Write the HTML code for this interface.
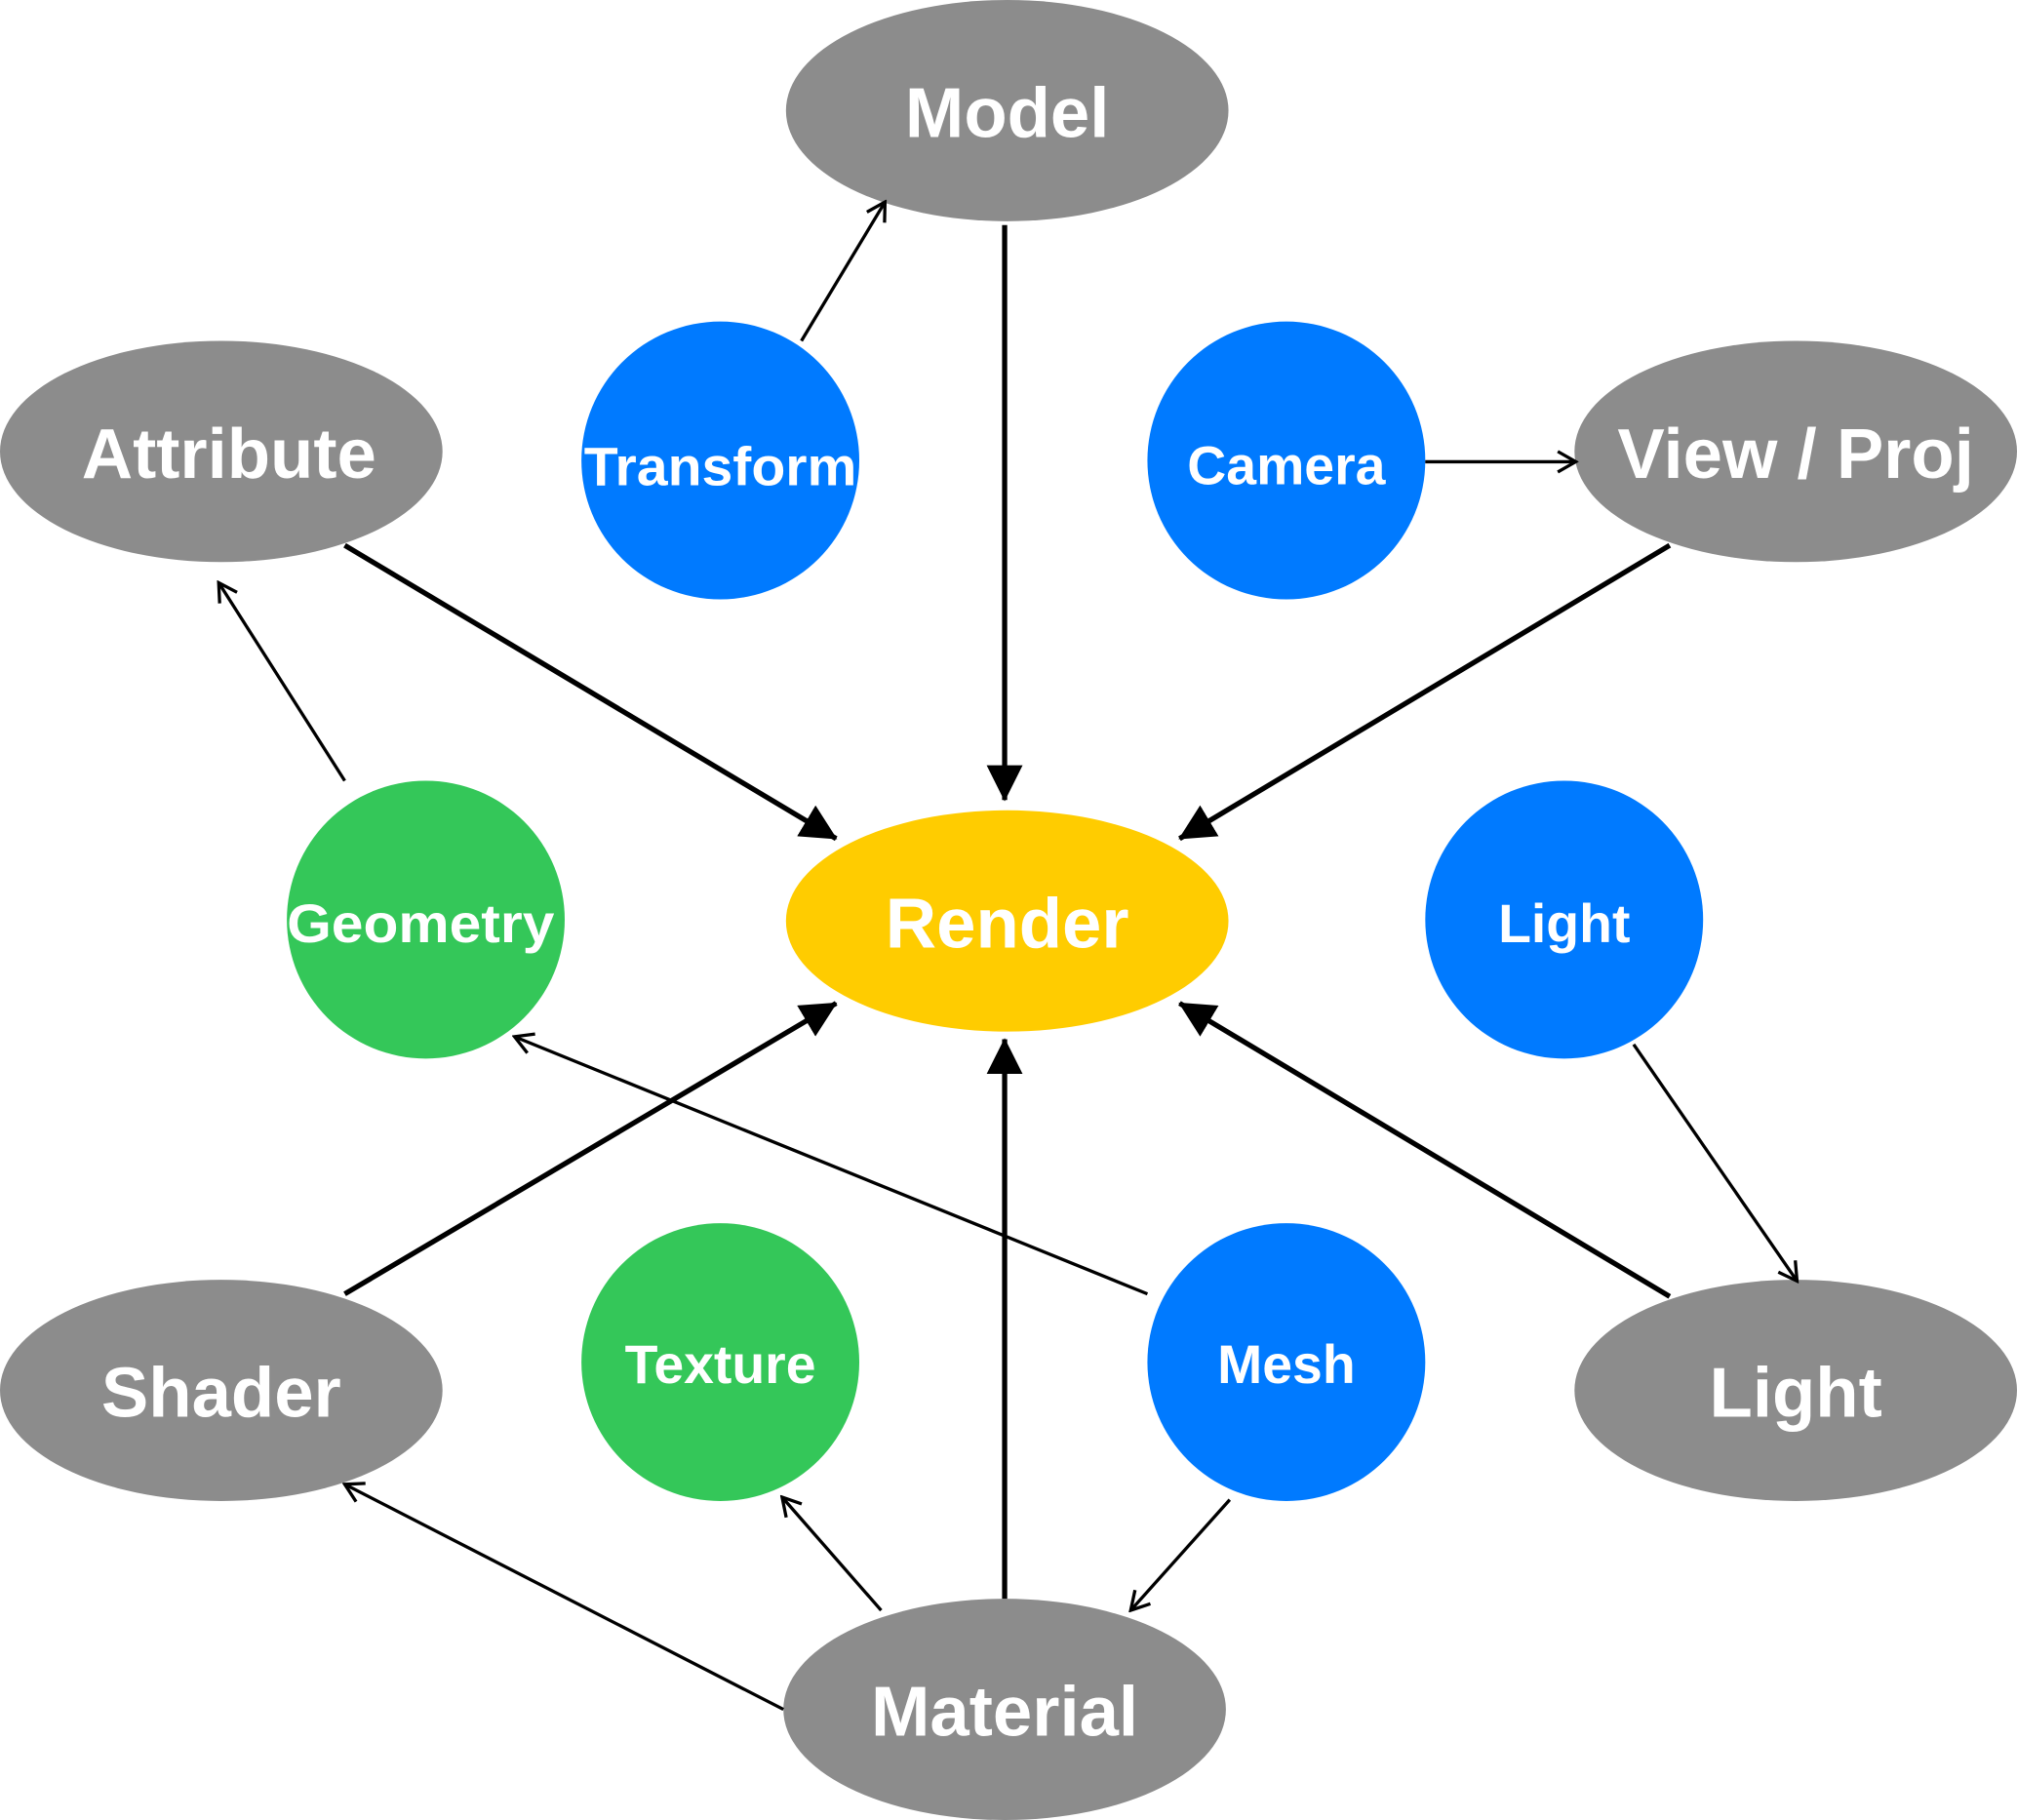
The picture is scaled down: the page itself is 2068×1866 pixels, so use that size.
<!DOCTYPE html>
<html><head><meta charset="utf-8"><style>html,body{margin:0;padding:0;background:#fff}svg{display:block}text{font-family:"Liberation Sans","DejaVu Sans",sans-serif;font-weight:bold;fill:#fff;text-anchor:middle;dominant-baseline:central}</style></head>
<body>
<svg width="2068" height="1866" viewBox="0 0 1568 1415" preserveAspectRatio="none" xmlns="http://www.w3.org/2000/svg">
<defs>
<marker id="tf" markerWidth="18" markerHeight="20" refX="16" refY="10" orient="auto" markerUnits="userSpaceOnUse"><path d="M2,2 L16,10 L2,18" fill="none" stroke="#000" stroke-width="2.5"/></marker>
<marker id="bf" markerWidth="28" markerHeight="30" refX="27" refY="14" orient="auto" markerUnits="userSpaceOnUse"><path d="M0,0 L28,14 L0,28z" fill="#000"/></marker>
</defs>
<g fill="#8c8c8c">
<ellipse cx="783" cy="86" rx="172" ry="86"/>
<ellipse cx="172" cy="351" rx="172" ry="86"/>
<ellipse cx="1396" cy="351" rx="172" ry="86"/>
<ellipse cx="172" cy="1081" rx="172" ry="86"/>
<ellipse cx="1396" cy="1081" rx="172" ry="86"/>
<ellipse cx="781" cy="1329" rx="172" ry="86"/>
</g>
<ellipse cx="783" cy="716" rx="172" ry="86" fill="#ffcc00"/>
<g fill="#007aff">
<circle cx="560" cy="358" r="108"/><circle cx="1000" cy="358" r="108"/><circle cx="1216" cy="715" r="108"/><circle cx="1000" cy="1059" r="108"/>
</g>
<g fill="#34c759"><circle cx="331" cy="715" r="108"/><circle cx="560" cy="1059" r="108"/></g>
<g stroke="#000" stroke-width="4" fill="none">
<line x1="781" y1="175" x2="781" y2="622" marker-end="url(#bf)"/>
<line x1="268" y1="424" x2="650" y2="652" marker-end="url(#bf)"/>
<line x1="1298" y1="424" x2="917" y2="652" marker-end="url(#bf)"/>
<line x1="781" y1="1243" x2="781" y2="808" marker-end="url(#bf)"/>
<line x1="268" y1="1006" x2="650" y2="780" marker-end="url(#bf)"/>
<line x1="1298" y1="1008" x2="917" y2="780" marker-end="url(#bf)"/>
</g>
<g stroke="#000" stroke-width="2.5" fill="none">
<line x1="623" y1="265" x2="688" y2="157" marker-end="url(#tf)"/>
<line x1="1108" y1="359" x2="1225" y2="359" marker-end="url(#tf)"/>
<line x1="268" y1="607" x2="170" y2="453" marker-end="url(#tf)"/>
<line x1="1270" y1="812" x2="1397" y2="996" marker-end="url(#tf)"/>
<line x1="892" y1="1006" x2="400" y2="806" marker-end="url(#tf)"/>
<line x1="956" y1="1166" x2="879" y2="1252" marker-end="url(#tf)"/>
<line x1="609" y1="1329" x2="268" y2="1154" marker-end="url(#tf)"/>
<line x1="685" y1="1252" x2="608" y2="1164" marker-end="url(#tf)"/>
</g>
<g font-size="55">
<text x="783" y="88">Model</text>
<text x="178" y="353">Attribute</text>
<text x="1396" y="353">View / Proj</text>
<text x="783" y="718">Render</text>
<text x="172" y="1083">Shader</text>
<text x="1396" y="1083">Light</text>
<text x="781" y="1331">Material</text>
</g>
<g font-size="42">
<text x="560" y="363" textLength="212" lengthAdjust="spacingAndGlyphs">Transform</text>
<text x="1000" y="362">Camera</text>
<text x="327" y="718" textLength="208" lengthAdjust="spacingAndGlyphs">Geometry</text>
<text x="1216" y="718">Light</text>
<text x="560" y="1061">Texture</text>
<text x="1000" y="1061">Mesh</text>
</g>
</svg>
</body></html>
